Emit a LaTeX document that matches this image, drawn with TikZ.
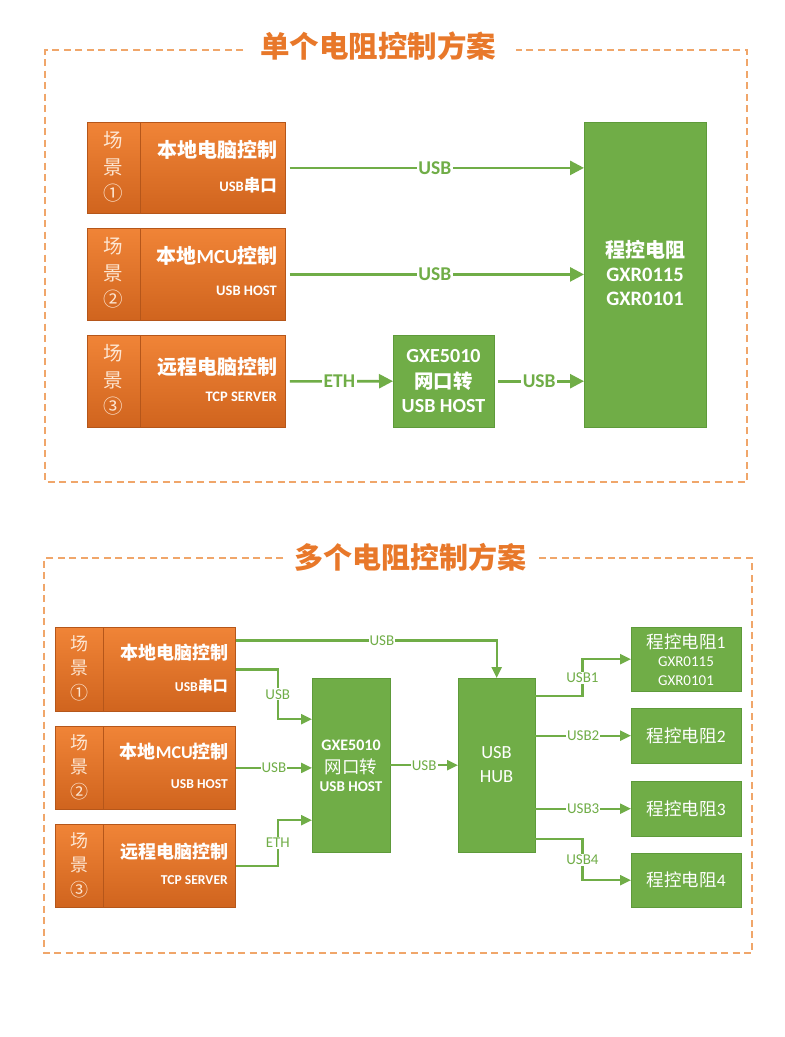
\documentclass[tikz,border=0pt]{standalone}
\usepackage{fontspec}
\setmainfont{Carlito}
\newfontfamily\cjk{Noto Sans CJK SC}
\usetikzlibrary{arrows.meta}
\definecolor{gr}{HTML}{70AD47}
\definecolor{grD}{HTML}{5E9A3A}
\definecolor{orA}{HTML}{F08437}
\definecolor{orB}{HTML}{D0641E}
\definecolor{orD}{HTML}{B5561A}
\definecolor{ttl}{HTML}{E8782A}
\definecolor{dsh}{HTML}{F0A66A}
\definecolor{pale}{HTML}{FDE6D2}
\begin{document}
\begin{tikzpicture}[x=1pt,y=-1pt,
  frame/.style={dsh, line width=1.6pt, dash pattern=on 7pt off 4.5pt},
  ttlstyle/.style={ttl, font=\cjk\bfseries\fontsize{29.5}{32}\selectfont, inner sep=0},
  obox/.style={draw=orD, line width=0.8pt, top color=orA, bottom color=orB, inner sep=0, anchor=north west},
  gbox/.style={fill=gr, draw=grD, line width=0.4pt, inner sep=0, anchor=north west},
  divl/.style={draw=orD, line width=0.8pt},
  colt/.style={pale, font=\cjk\fontsize{19.5}{21}\selectfont, inner sep=0},
  colb/.style={pale, font=\cjk\fontsize{18}{20}\selectfont, inner sep=0},
  maint/.style={white, font=\bfseries\fontsize{20}{22}\selectfont, inner sep=0, anchor=east},
  mainb/.style={white, font=\bfseries\fontsize{18}{20}\selectfont, inner sep=0, anchor=east},
  subt/.style={white, font=\bfseries\fontsize{14.5}{16}\selectfont, inner sep=0, anchor=east},
  subb/.style={white, font=\bfseries\fontsize{13.6}{16}\selectfont, inner sep=0, anchor=east},
  gtext/.style={white, inner sep=0},
  tarr/.style={gr, line width=2.6pt, -{Triangle[length=14pt,width=14pt]}, shorten <=4pt},
  barr/.style={gr, line width=2.2pt, -{Triangle[length=11pt,width=10pt]}},
  tlab/.style={fill=white, text=gr, font=\bfseries\fontsize{19.5}{21}\selectfont, inner sep=1.5pt},
  blab/.style={fill=white, text=gr, font=\fontsize{15}{17}\selectfont, inner sep=1pt}
]
\useasboundingbox[fill=white] (0,0) rectangle (785,1037);

% ================= TOP SECTION =================
\node[ttlstyle] (t1) at (378,46) {单个电阻控制方案};
\draw[frame] (243,50) -- (45,50) -- (45,482) -- (747,482) -- (747,50) -- (516,50);

\node[obox, minimum width=198pt, minimum height=91pt] (s1) at (87,122) {};
\node[obox, minimum width=198pt, minimum height=92pt] (s2) at (87,228) {};
\node[obox, minimum width=198pt, minimum height=92pt] (s3) at (87,335) {};
\foreach \n in {s1,s2,s3}{
  \draw[divl] ([xshift=53pt]\n.north west) -- ([xshift=53pt]\n.south west);
}
\foreach \i/\y/\c in {1/122/①,2/228/②,3/335/③}{
  \node[colt] (s\i a) at (113,\y+18) {场};
  \node[colt] (s\i b) at (113,\y+45) {景};
  \node[colt] (s\i c) at (113,\y+71) {\c};
}
\node[maint] (s1m) at (278,150) {{\cjk 本地电脑控制}};
\node[subt]  (s1s) at (277,185) {USB{\cjk\fontsize{16.5}{18}\selectfont 串口}};
\node[maint] (s2m) at (278,256) {{\cjk 本地}MCU{\cjk 控制}};
\node[subt]  (s2s) at (277,291) {USB HOST};
\node[maint] (s3m) at (278,367) {{\cjk 远程电脑控制}};
\node[subt]  (s3s) at (277,397) {TCP SERVER};

\node[gbox, minimum width=101pt, minimum height=92pt] (gx) at (393,335) {};
\node[gtext, font=\bfseries\fontsize{20}{22}\selectfont] (gx1) at (443.5,356) {GXE5010};
\node[gtext, font=\cjk\bfseries\fontsize{19.4}{21}\selectfont] (gx2) at (443.5,381) {网口转};
\node[gtext, font=\bfseries\fontsize{20}{22}\selectfont] (gx3) at (443.5,406) {USB HOST};

\node[gbox, minimum width=122pt, minimum height=305pt] (rr) at (584,122) {};
\node[gtext, font=\cjk\bfseries\fontsize{20}{22}\selectfont] (rr1) at (645,250) {程控电阻};
\node[gtext, font=\bfseries\fontsize{20.5}{22}\selectfont] (rr2) at (645,275) {GXR0115};
\node[gtext, font=\bfseries\fontsize{20.5}{22}\selectfont] (rr3) at (645,299) {GXR0101};

\draw[tarr] (s1.east) -- (s1.east -| rr.west) node[tlab, midway] {USB};
\draw[tarr] (s2.east) -- (s2.east -| rr.west) node[tlab, midway] {USB};
\draw[tarr] (s3.east) -- (gx.west) node[tlab, midway] {ETH};
\draw[tarr] (gx.east) -- (gx.east -| rr.west) node[tlab, midway] {USB};

% ================= BOTTOM SECTION =================
\node[ttlstyle, font=\cjk\bfseries\fontsize{29}{32}\selectfont] (t2) at (410,557) {多个电阻控制方案};
\draw[frame] (283,558) -- (44,558) -- (44,953) -- (752,953) -- (752,558) -- (537,558);

\node[obox, minimum width=180pt, minimum height=84pt] (b1) at (55,627) {};
\node[obox, minimum width=180pt, minimum height=83pt] (b2) at (55,726) {};
\node[obox, minimum width=180pt, minimum height=83pt] (b3) at (55,824) {};
\foreach \n in {b1,b2,b3}{
  \draw[divl] ([xshift=48pt]\n.north west) -- ([xshift=48pt]\n.south west);
}
\foreach \i/\y/\c in {1/627/①,2/726/②,3/824/③}{
  \node[colb] (b\i a) at (79,\y+17) {场};
  \node[colb] (b\i b) at (79,\y+41) {景};
  \node[colb] (b\i c) at (79,\y+66) {\c};
}
\node[mainb] (b1m) at (229,653) {{\cjk 本地电脑控制}};
\node[subb]  (b1s) at (228,686) {USB{\cjk\fontsize{15}{17}\selectfont 串口}};
\node[mainb] (b2m) at (229,752) {{\cjk 本地}MCU{\cjk 控制}};
\node[subb]  (b2s) at (228,784) {USB HOST};
\node[mainb] (b3m) at (229,852) {{\cjk 远程电脑控制}};
\node[subb]  (b3s) at (228,880) {TCP SERVER};

\node[gbox, minimum width=78pt, minimum height=174pt] (gxe) at (312,678) {};
\node[gtext, font=\bfseries\fontsize{16}{18}\selectfont] (gxe1) at (351,745) {GXE5010};
\node[gtext, font=\cjk\fontsize{17.5}{20}\selectfont] (gxe2) at (351,767) {网口转};
\node[gtext, font=\bfseries\fontsize{15}{18}\selectfont] (gxe3) at (351,787) {USB HOST};

\node[gbox, minimum width=77pt, minimum height=174pt] (hub) at (458,678) {};
\node[gtext, font=\fontsize{18.5}{21}\selectfont] (hub1) at (496.5,753) {USB};
\node[gtext, font=\fontsize{18.5}{21}\selectfont] (hub2) at (496.5,777) {HUB};

\node[gbox, minimum width=110pt, minimum height=64pt] (r1) at (631,627) {};
\node[gbox, minimum width=110pt, minimum height=55pt] (r2) at (631,708) {};
\node[gbox, minimum width=110pt, minimum height=55pt] (r3) at (631,781) {};
\node[gbox, minimum width=110pt, minimum height=54pt] (r4) at (631,853) {};
\node[gtext, font=\fontsize{17.5}{20}\selectfont] (r1a) at (686,642) {{\cjk 程控电阻}1};
\node[gtext, font=\fontsize{15}{17}\selectfont] (r1b) at (686,662) {GXR0115};
\node[gtext, font=\fontsize{15}{17}\selectfont] (r1c) at (686,681) {GXR0101};
\node[gtext, font=\fontsize{17.5}{20}\selectfont] (r2a) at (r2.center) {{\cjk 程控电阻}2};
\node[gtext, font=\fontsize{17.5}{20}\selectfont] (r3a) at (r3.center) {{\cjk 程控电阻}3};
\node[gtext, font=\fontsize{17.5}{20}\selectfont] (r4a) at (r4.center) {{\cjk 程控电阻}4};

\draw[barr] ([yshift=29pt]b1.east) -| (hub.north) node[blab, pos=0.28] {USB};
\draw[barr] (b1.east) -- ++(42,0) |- ([yshift=46pt]gxe.west) node[blab, pos=0.25] {USB};
\draw[barr] (b2.east) -- (b2.east -| gxe.west) node[blab, midway] {USB};
\draw[barr] (b3.east) -- ++(42,0) |- ([yshift=-55pt]gxe.west) node[blab, pos=0.25] {ETH};
\draw[barr] (gxe.east) -- (gxe.east -| hub.west) node[blab, midway] {USB};

\draw[barr] ([yshift=69pt]hub.east) -- ++(47,0) |- (r1.west) node[blab, pos=0.25] {USB1};
\draw[barr] (r2.west -| hub.east) -- (r2.west) node[blab, midway] {USB2};
\draw[barr] (r3.west -| hub.east) -- (r3.west) node[blab, midway] {USB3};
\draw[barr] ([yshift=-74pt]hub.east) -- ++(47,0) |- (r4.west) node[blab, pos=0.25] {USB4};
\end{tikzpicture}
\end{document}
